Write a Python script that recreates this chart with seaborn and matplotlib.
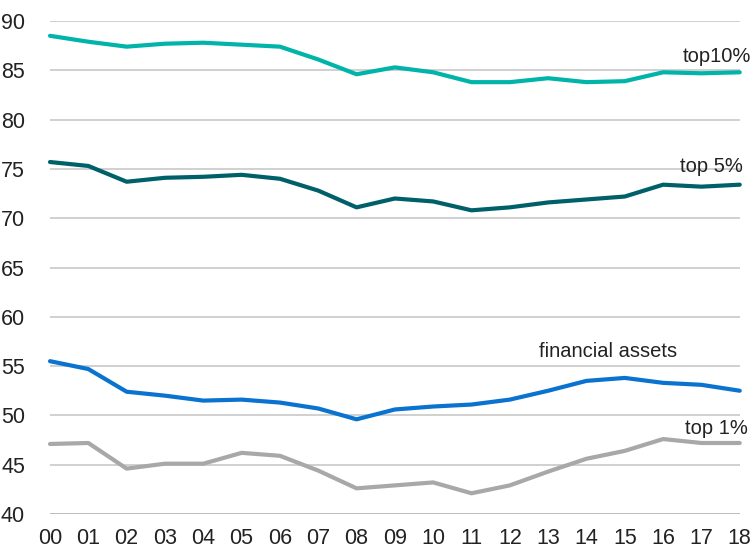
import numpy as np
import matplotlib
matplotlib.use("Agg")
import matplotlib.pyplot as plt
import seaborn as sns
import pandas as pd

years = ["00", "01", "02", "03", "04", "05", "06", "07", "08", "09",
         "10", "11", "12", "13", "14", "15", "16", "17", "18"]

top10 = [88.5, 87.9, 87.4, 87.7, 87.8, 87.6, 87.4, 86.1, 84.6, 85.3,
         84.8, 83.8, 83.8, 84.2, 83.8, 83.9, 84.8, 84.7, 84.8]
top5 = [75.7, 75.3, 73.7, 74.1, 74.2, 74.4, 74.0, 72.8, 71.1, 72.0,
        71.7, 70.8, 71.1, 71.6, 71.9, 72.2, 73.4, 73.2, 73.4]
financial = [55.5, 54.7, 52.4, 52.0, 51.5, 51.6, 51.3, 50.7, 49.6, 50.6,
             50.9, 51.1, 51.6, 52.5, 53.5, 53.8, 53.3, 53.1, 52.5]
top1 = [47.1, 47.2, 44.6, 45.1, 45.1, 46.2, 45.9, 44.4, 42.6, 42.9,
        43.2, 42.1, 42.9, 44.3, 45.6, 46.4, 47.6, 47.2, 47.2]

series = {"top10%": top10, "top 5%": top5, "financial assets": financial, "top 1%": top1}
colors = {"top10%": "#00b4aa", "top 5%": "#00606a", "financial assets": "#0a72cf", "top 1%": "#a8a8a8"}

rows = []
for name, vals in series.items():
    for i, v in enumerate(vals):
        rows.append({"x": i, "value": v, "series": name})
df = pd.DataFrame(rows)

sns.set_style("white")
plt.rcParams["font.family"] = ["Liberation Sans", "DejaVu Sans"]

fig = plt.figure(figsize=(7.51, 5.49), dpi=100)
ax = fig.add_axes([0.0666, 0.0638, 0.9184, 0.8979])

# horizontal gridlines, bottom one a bit darker
for y in range(40, 91, 5):
    ax.axhline(y, color="#b0b0b0" if y == 40 else "#c8c8c8", lw=1.2, zorder=0)

sns.lineplot(data=df, x="x", y="value", hue="series", palette=colors,
             linewidth=3, legend=False, ax=ax, clip_on=False)

ax.set_xlim(0, 18)
ax.set_ylim(40, 90)
ax.set_xticks(range(len(years)))
ax.set_xticklabels(years)
ax.set_yticks(range(40, 91, 5))
ax.tick_params(axis="both", length=0, labelsize=15.5, colors="#222222")
ax.tick_params(axis="y", pad=18)
ax.tick_params(axis="x", pad=10)
ax.set_xlabel("")
ax.set_ylabel("")
sns.despine(ax=ax, left=True, bottom=True)

lab_kw = dict(fontsize=14.5, color="#222222", ha="center", va="baseline")
ax.text(17.4, 85.8, "top10%", **lab_kw)
ax.text(17.25, 74.7, "top 5%", **lab_kw)
ax.text(14.56, 55.9, "financial assets", **lab_kw)
ax.text(17.4, 48.1, "top 1%", **lab_kw)

fig.savefig("out.png", dpi=100)
